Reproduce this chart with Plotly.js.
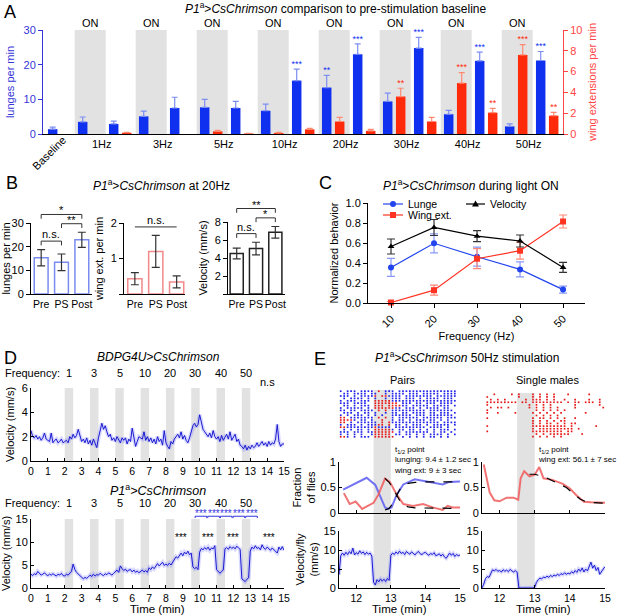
<!DOCTYPE html>
<html>
<head>
<meta charset="utf-8">
<script src="https://cdn.plot.ly/plotly-3.0.1.min.js"></script>
<style>
  html, body { margin: 0; padding: 0; background: #fff; }
  #fig { width: 617px; height: 616px; }
</style>
</head>
<body>
<div id="fig"></div>
<script>
// ---------- data ----------
// A: bars in order Baseline, 1Hz ON, 1Hz OFF, 3Hz ON, 3Hz OFF ... 50Hz OFF
const freqs = ["1Hz", "3Hz", "5Hz", "10Hz", "20Hz", "30Hz", "40Hz", "50Hz"];
const lunges = [1.4, 3.5, 2.9, 5.1, 7.5, 7.7, 7.5, 6.7, 15.4, 13.4, 23.0, 9.4, 24.8, 5.7, 21.1, 2.2, 21.2];
const lungesErr = [0.6, 1.4, 0.8, 1.5, 3.1, 2.3, 1.9, 1.9, 3.3, 3.5, 3.0, 2.4, 3.1, 1.1, 2.5, 0.7, 2.6];
const lungeStars = ["", "", "", "", "", "", "", "", "***", "**", "***", "", "***", "", "***", "", "***"];
const wing = [0, 0, 0.12, 0, 0, 0.25, 0.05, 0.1, 0.45, 1.2, 0.3, 3.6, 1.2, 4.9, 2.05, 7.6, 1.76];
const wingErr = [0, 0, 0.05, 0, 0, 0.1, 0.02, 0.05, 0.1, 0.4, 0.15, 0.8, 0.4, 1.0, 0.42, 1.0, 0.32];
const wingStars = ["", "", "", "", "", "", "", "", "", "", "", "**", "", "***", "**", "***", "**"];

// B: 20Hz Pre / PS / Post
const bCats = ["Pre", "PS", "Post"];
const bLunge = [15.3, 13.4, 22.9];
const bLungeErr = [3.45, 3.5, 3.2];
const bWing = [0.43, 1.2, 0.34];
const bWingErr = [0.17, 0.45, 0.17];
const bVel = [4.5, 5.05, 6.85];
const bVelErr = [0.6, 0.7, 0.65];

// C: normalized behavior during light ON
const cFreq = [10, 20, 30, 40, 50];
const cLunge = [0.356, 0.597, 0.463, 0.336, 0.134];
const cLungeErr = [0.09, 0.095, 0.095, 0.075, 0.035];
const cWing = [0.005, 0.128, 0.443, 0.523, 0.815];
const cWingErr = [0.01, 0.05, 0.1, 0.085, 0.065];
const cVel = [0.565, 0.755, 0.668, 0.62, 0.356];
const cVelErr = [0.075, 0.08, 0.055, 0.06, 0.05];

// D: velocity traces, one value every 0.1 min from 0 to 15
const stimStarts = [2, 3.5, 5, 6.5, 8, 9.5, 11, 12.5];
const stimLabels = ["1", "3", "5", "10", "20", "30", "40", "50"];
const velBDP = [
  2.5, 2.0, 1.9, 2.1, 1.8, 2.0, 1.7, 1.9, 2.3, 1.8,
  1.7, 1.6, 2.3, 1.5, 1.7, 1.8, 1.5, 1.6, 1.8, 1.5,
  1.6, 1.7, 1.5, 2.0, 1.8, 2.2, 1.9, 2.1, 2.6, 2.0,
  1.6, 1.8, 1.5, 1.9, 1.4, 1.7, 1.3, 1.8, 1.5, 1.1,
  1.9, 2.4, 3.1, 2.6, 2.9, 2.4, 2.0, 2.2, 1.7, 1.9,
  1.6, 2.0, 1.8, 1.5, 1.9, 1.7, 1.9, 1.4, 1.8, 1.6,
  2.7, 1.8, 1.2, 1.6, 2.0, 1.9, 1.8, 2.4, 1.7, 2.0,
  1.6, 1.9, 1.5, 1.8, 1.4, 2.0, 1.6, 1.8, 1.3, 2.5,
  1.5, 1.2, 1.0, 1.6, 1.4, 1.8, 2.0, 2.2, 1.9, 2.4,
  1.8, 2.1, 1.7, 1.5, 1.9, 2.4, 2.9, 3.1, 2.8, 3.0,
  3.8, 3.2, 2.6, 2.4, 2.2, 2.0, 2.3, 1.9, 2.5, 2.0,
  1.8, 2.0, 1.6, 2.1, 1.7, 1.9, 2.2, 1.8, 2.4, 1.7,
  1.9, 2.2, 1.6, 1.8, 1.3, 1.2, 1.0, 1.3, 0.9, 1.2,
  1.0, 1.3, 1.1, 1.2, 1.5, 1.2, 1.4, 1.6, 1.3, 1.5,
  1.2, 1.6, 1.3, 1.5, 1.4, 1.8, 3.0, 1.6, 1.2, 1.4,
  1.4];
const velP1 = [
  3.0, 2.7, 3.1, 2.9, 3.6, 3.2, 2.8, 3.0, 3.3, 2.9,
  2.7, 3.0, 2.8, 3.1, 2.9, 2.6, 3.0, 2.8, 3.2, 2.7,
  2.6, 3.0, 2.8, 3.3, 3.6, 5.2, 4.0, 3.4, 3.0, 2.8,
  2.2, 2.0, 2.3, 2.1, 2.4, 2.8, 2.5, 3.0, 2.6, 2.9,
  2.8, 3.2, 2.9, 2.7, 3.1, 2.9, 3.3, 3.0, 2.8, 3.2,
  3.5, 3.9, 3.4, 4.8, 4.2, 3.8, 4.1, 3.6, 3.9, 4.0,
  3.5, 3.9, 3.4, 3.7, 3.3, 3.6, 3.9, 3.5, 3.8, 3.4,
  4.4, 4.0, 4.6, 4.2, 4.9, 5.3, 4.8, 5.2, 5.6, 4.9,
  5.2, 4.9, 5.4, 5.0, 5.6, 6.3, 6.8, 6.5, 7.2, 7.6,
  7.0, 7.8, 7.4, 8.0, 7.2, 7.6, 4.6, 4.2, 4.5, 4.0,
  7.8, 8.6, 8.3, 8.8, 8.4, 8.9, 8.2, 8.7, 8.5, 9.2,
  4.0, 3.5, 3.2, 3.6, 3.9, 8.5, 8.8, 8.4, 9.0, 8.6,
  8.9, 8.5, 9.1, 8.7, 8.4, 2.0, 1.6, 1.4, 1.9, 2.2,
  8.0, 8.9, 8.5, 9.2, 8.6, 8.8, 8.3, 9.4, 8.7, 8.4,
  8.9, 8.5, 8.2, 8.7, 8.4, 8.0, 7.6, 8.9, 8.3, 9.0,
  8.2];
const p1Compare = [9.7, 10.45, 11.2, 11.95, 12.7, 13.45];
const p1StarT = [8.9, 10.5, 12.0, 14.1];

// E: rasters, one char per 0.1 min from 11.5 (b = lunge, r = wing ext)
const pairRows = [
  "b.bbb.bbbb.r.bbb.bbbbbbbbbbbbbbbbb.",
  ".bb.bbbb.bb..b.bbbb.bbb.bbbbb.bbbb.",
  "bbb.b.bbbbr.rrbbbb.bbbbbbbb.bbbbbb.",
  ".b.bbbb.b.b..b.bbb.bbb.b.bbbb.bbb..",
  "b.bbb.bbb.rrrrrbbbbbbbbbbbbbbbbbbb.",
  "bbb.bbbb..rrrrrrr.bbb.bb.bbb.bbbb..",
  ".bb.b.bbb.rrr.rrrrbb.bbbbb.bbbbb.b.",
  "b.bbbbb.b.rrrrrrbb.bbb.b.bbbb.bb...",
  "bb.bb.bbbb.r.r.bbbbbbbbbb.bbbbbbb..",
  ".bbb.b.bb.b..b.bb.bb.bbbb.bb.bbb.b.",
  "b.b.bbb.b.b.b..bbbbbb.bbb.bbbbbbb..",
  "rr.bbbbbbb.r.r.b.bbbbbb.bbbbbb.bbb.",
  "rrrrb.bb.b..r..b.bb.b.bbb.bb.b.b...",
  "rr.b.bbbbbb.r.rbbbbbbbbbbbbbb.bbbb.",
  "b.bbb.b.bbbrr.r.bb.b.bbb.b.bbbbb.b.",
  "rrbbbbbbbbrbbbb.bbbbbbbbb.bbbb.b...",
  ".b.b.bb.b.rrrrrb.bb.bb.b.b.b.bbb.b.",
  "bbb.bbb.bbrrrrrr.b.bbbbbbb.b.bb.b..",
  "b.b.b.b..brrrrr.bb.bb.b.b.bbbb.b.b.",
  "rrb.b.bbb.rrrrrr..b.b.b.b.bb.b.b..."];
const singleRows = [
  "...r....r.r...r.r.r.r...r.....r....",
  ".r........r...r.r.r.r..............",
  "..r.r.r.....r.rrr.r.r..r..r...r..r.",
  ".rrrrrrrrr.rr.rrrrrrrrr.r.rr.rrr.r.",
  ".r...........r.r.r.r......r......r.",
  "..r.rr.r.....r.r.r.r.r....r.......r",
  ".r.............r.r.r.r.r...........",
  ".r..r....r....r.r.r.r.r......r.....",
  "...............r.r.r.r.............",
  ".r............r.rr.r.r.r..r........",
  "..............r.r.r.r.rr...........",
  "..............r.r.rr.r.r.rr........",
  ".r............rrrrrrrrrr.r......r..",
  "..............r.rrrrrrrrrr.r.......",
  ".r............rrrrrrrrr.rr.........",
  "...............r.r.rrrrrr...r......",
  "..............r.r.r.r.r............"];

// E: fraction of flies
const pairLungeT = [11.62, 12.3, 12.55, 12.83, 12.9, 13.02, 13.17, 13.36, 13.69, 14.02, 14.5, 14.69, 15.0];
const pairLunge = [0.46, 0.69, 0.55, 0.11, 0.08, 0.11, 0.36, 0.56, 0.66, 0.62, 0.56, 0.61, 0.62];
const pairWingT = [11.64, 11.81, 11.98, 12.17, 12.5, 12.64, 12.83, 12.97, 13.17, 13.36, 13.64, 13.93, 14.21, 14.5, 14.64, 14.79, 15.0];
const pairWing = [0.39, 0.175, 0.225, 0.08, 0.2, 0.36, 0.675, 0.61, 0.36, 0.175, 0.14, 0.175, 0.11, 0.06, 0.14, 0.11, 0.11];
const pairFitT = [12.83, 12.95, 13.05, 13.15, 13.25, 13.35, 13.5, 13.7, 14.0, 14.5, 15.0];
const pairFitLunge = [0.06, 0.09, 0.18, 0.32, 0.45, 0.53, 0.58, 0.6, 0.61, 0.61, 0.61];
const pairFitWing = [0.68, 0.6, 0.5, 0.37, 0.25, 0.17, 0.12, 0.1, 0.1, 0.09, 0.09];
const singleWingT = [11.55, 11.72, 11.85, 12.0, 12.2, 12.4, 12.53, 12.6, 12.7, 12.85, 13.0, 13.13, 13.25, 13.5, 13.8, 14.0, 14.2, 14.4, 14.6, 15.0];
const singleWing = [0.95, 0.4, 0.25, 0.23, 0.3, 0.3, 0.26, 0.68, 0.82, 0.72, 0.75, 0.9, 0.68, 0.65, 0.57, 0.48, 0.34, 0.22, 0.21, 0.2];
const singleFitT = [12.85, 13.0, 13.3, 13.6, 13.9, 14.1, 14.3, 14.5, 14.7, 15.0];
const singleFit = [0.76, 0.76, 0.7, 0.6, 0.5, 0.38, 0.27, 0.21, 0.2, 0.19];

// E: velocity per fly, one value every 0.05 min from 11.5
const pairVel = [
  3.5, 8.5, 9.2, 8.6, 9.4, 8.8, 9.6, 9.0, 10.5, 8.7,
  9.3, 8.9, 9.8, 9.1, 9.5, 8.8, 9.4, 8.9, 9.2, 8.4,
  1.5, 0.8, 2.2, 1.6, 2.4, 1.8, 2.3, 1.7, 2.5, 2.0,
  8.6, 9.2, 8.8, 9.5, 9.0, 9.7, 9.1, 9.4, 8.8, 9.6,
  9.2, 8.9, 9.5, 9.0, 8.7, 9.3, 9.6, 9.0, 8.8, 9.2,
  9.4, 8.9, 8.6, 9.1, 8.8, 9.3, 8.5, 8.7, 9.0, 8.4,
  8.9, 8.2, 7.8, 8.5, 9.2, 8.6, 9.1, 8.3, 8.8, 8.5,
  8.7];
const singleVel = [
  0, 1.0, 2.5, 3.0, 2.8, 3.8, 4.8, 4.5, 4.9, 4.4,
  4.6, 4.2, 4.8, 4.4, 4.7, 4.3, 4.9, 4.5, 4.2, 4.6,
  4.1, 0, 0, 0, 0, 0, 0, 0, 0, 0,
  0.2, 1.5, 2.2, 2.6, 2.4, 2.9, 2.7, 3.1, 2.8, 3.3,
  3.0, 3.4, 3.2, 3.6, 3.3, 3.8, 3.5, 4.0, 3.6, 3.9,
  3.7, 4.3, 3.9, 4.6, 4.1, 5.0, 4.4, 5.3, 4.2, 5.0,
  4.5, 5.8, 6.8, 5.2, 6.0, 4.6, 5.4, 3.6, 4.4, 5.0,
  5.6];

// ---------- helpers ----------
const W = 617, H = 616;
const FONT = "Liberation Sans, Arial, sans-serif";
const px = p => p / W;
const py = p => 1 - p / H;
const dx = (a, b) => [a / W, b / W];
const dy = (t, b) => [1 - b / H, 1 - t / H];

const BLUE = "#1030f0", BLUE_AX = "#3535d8", BLUE_ERR = "#7d8ef2";
const RED = "#ff2a0a", RED_AX = "#ff4545", RED_ERR = "#ff8a72";
const GRAY = "#e2e2e2";
const BOTTOM = 588;   // bottom axis line of the lowest row of panels

const layout = {
  width: W, height: H,
  margin: { l: 0, r: 0, t: 0, b: 0 },
  paper_bgcolor: "white", plot_bgcolor: "rgba(0,0,0,0)",
  font: { family: FONT, size: 11, color: "black" },
  showlegend: false, barmode: "overlay",
  shapes: [], annotations: []
};
const data = [];

function ax(extra) {
  return Object.assign({
    showgrid: false, zeroline: false, showline: true, linecolor: "black", linewidth: 1,
    ticks: "outside", ticklen: 4, tickcolor: "black", tickfont: { size: 11 }, fixedrange: true
  }, extra);
}
// invisible axis that only carries significance brackets above a panel
function overAxis(anchor, top, bottom, baseTop, baseRange) {
  return { visible: false, fixedrange: true, anchor: anchor, domain: dy(top, bottom), range: [0, baseRange * (bottom - top) / (bottom - baseTop)] };
}
function note(text, x, y, o) {
  layout.annotations.push(Object.assign({
    text: text, x: px(x), y: py(y), xref: "paper", yref: "paper", showarrow: false,
    xanchor: "center", yanchor: "middle", font: { size: 11 }
  }, o || {}));
}
// annotation with x in data units and y in pixels from the top
function noteX(text, xa, x, y, o) {
  layout.annotations.push(Object.assign({
    text: text, x: x, y: py(y), xref: xa, yref: "paper", showarrow: false,
    xanchor: "center", yanchor: "middle", font: { size: 11 }
  }, o || {}));
}

// ---------- A ----------
const grpStart = g => 74.7 + 61 * g;
function barX(i, red) {
  const g = i === 0 ? -1 : Math.floor((i - 1) / 2);
  const on = i > 0 && (i - 1) % 2 === 0;
  return grpStart(g) + (on ? (red ? 21 : 8) : (red ? 52 : 39));
}
const lx = lunges.map((v, i) => barX(i, false));
const wx = wing.map((v, i) => barX(i, true));

data.push({
  type: "bar", x: lx, y: lunges, width: 9.5, marker: { color: BLUE },
  error_y: { type: "data", symmetric: false, array: lungesErr, arrayminus: lunges.map(() => 0), color: BLUE_ERR, thickness: 1.2, width: 3 },
  xaxis: "x", yaxis: "y", hoverinfo: "skip"
});
data.push({
  type: "bar", x: wx, y: wing, width: 9.5, marker: { color: RED },
  error_y: { type: "data", symmetric: false, array: wingErr.map((e, i) => wing[i] > 0 ? e : NaN), arrayminus: wing.map(v => v > 0 ? 0 : NaN), color: RED_ERR, thickness: 1.2, width: 3 },
  xaxis: "x", yaxis: "y2", hoverinfo: "skip"
});
data.push({
  type: "scatter", mode: "text", x: lx, y: lunges.map((v, i) => v + lungesErr[i]), text: lungeStars,
  textposition: "top center", textfont: { color: BLUE, size: 9 }, cliponaxis: false, xaxis: "x", yaxis: "y", hoverinfo: "skip"
});
data.push({
  type: "scatter", mode: "text", x: wx, y: wing.map((v, i) => v + wingErr[i]), text: wingStars,
  textposition: "top center", textfont: { color: RED, size: 9 }, cliponaxis: false, xaxis: "x", yaxis: "y2", hoverinfo: "skip"
});
freqs.forEach((f, g) => {
  layout.shapes.push({ type: "rect", xref: "x", yref: "y", x0: grpStart(g), x1: grpStart(g) + 31, y0: 0, y1: 30, fillcolor: GRAY, line: { width: 0 }, layer: "below" });
  noteX("ON", "x", grpStart(g) + 15.5, 23);
});
layout.xaxis = ax({
  domain: dx(43, 563), range: [43, 563], anchor: "y", ticks: "",
  tickvals: freqs.map((f, g) => grpStart(g) + 27), ticktext: freqs
});
layout.yaxis = ax({
  domain: dy(30, 134), range: [0, 30], tickvals: [0, 10, 20, 30], anchor: "x",
  linecolor: BLUE_AX, tickcolor: BLUE_AX, tickfont: { size: 11, color: BLUE_AX },
  title: { text: "lunges per min", font: { size: 11, color: BLUE_AX }, standoff: 6 }
});
layout.yaxis2 = ax({
  overlaying: "y", side: "right", anchor: "x", range: [0, 10], tickvals: [0, 2, 4, 6, 8, 10],
  linecolor: RED_AX, tickcolor: RED_AX, tickfont: { size: 11, color: RED_AX },
  title: { text: "wing extensions per min", font: { size: 11, color: RED_AX }, standoff: 6 }
});
noteX("Baseline", "x", 49, 153, { textangle: -45 });
note("A", 2, 0, { xanchor: "left", yanchor: "top", font: { size: 18 } });
note("<i>P1</i><sup>a</sup>&gt;<i>CsChrimson</i> comparison to pre-stimulation baseline", 335, 8, { font: { size: 12 } });

// ---------- B ----------
function bPanel(xa, ya, yBr, vals, errs, lineColor, rng, brackets) {
  data.push({
    type: "bar", x: [0, 1, 2], y: vals, width: 0.68,
    marker: { color: "white", line: { color: lineColor, width: 1.5 } },
    error_y: { type: "data", array: errs, color: "#333", thickness: 1.2, width: 4 },
    xaxis: xa, yaxis: ya, hoverinfo: "skip"
  });
  brackets.forEach(b => {
    let top = 0;
    for (let k = b.a; k <= b.b; k++) top = Math.max(top, vals[k] + errs[k]);
    const yb = top + rng * (0.12 + 0.13 * b.level);
    const d = b.drop ? rng * 0.06 : 0;
    data.push({
      type: "scatter", mode: "lines", x: [b.a, b.a, b.b, b.b], y: [yb - d, yb, yb, yb - d],
      line: { color: "#333", width: 1 }, xaxis: xa, yaxis: yBr, hoverinfo: "skip"
    });
    layout.annotations.push({
      text: b.label, xref: xa, yref: yBr, x: (b.a + b.b) / 2, y: yb, xanchor: "center", yanchor: "bottom",
      showarrow: false, font: { size: 11 }, yshift: b.label === "n.s." ? -1 : -4
    });
  });
}
bPanel("x2", "y3", "y15", bLunge, bLungeErr, "#7b8cf0", 30, [
  { a: 0, b: 1, label: "n.s.", level: 0, drop: true },
  { a: 1, b: 2, label: "**", level: 0, drop: true },
  { a: 0, b: 2, label: "*", level: 1, drop: true }]);
bPanel("x3", "y4", "y16", bWing, bWingErr, "#f28a8a", 2, [
  { a: 0, b: 2, label: "n.s.", level: 0, drop: false }]);
bPanel("x4", "y5", "y17", bVel, bVelErr, "#222", 8, [
  { a: 0, b: 1, label: "n.s.", level: 0, drop: true },
  { a: 1, b: 2, label: "*", level: 0, drop: true },
  { a: 0, b: 2, label: "**", level: 1, drop: true }]);
const bx = { ticks: "", tickvals: [0, 1, 2], ticktext: bCats, tickfont: { size: 10.5 }, tickangle: 0 };
layout.xaxis2 = ax(Object.assign({ domain: dx(31, 92), range: [-0.5, 2.5], anchor: "y3" }, bx));
layout.yaxis3 = ax({ domain: dy(223, 294), range: [0, 30], tickvals: [0, 10, 20, 30], anchor: "x2", title: { text: "lunges per min", font: { size: 11 }, standoff: 4 } });
layout.xaxis3 = ax(Object.assign({ domain: dx(124, 185), range: [-0.52, 2.4], anchor: "y4" }, bx));
layout.yaxis4 = ax({ domain: dy(223, 294), range: [0, 2], tickvals: [0, 1, 2], ticktext: ["", "1", "2"], anchor: "x3", title: { text: "wing ext. per min", font: { size: 11 }, standoff: 4 } });
layout.xaxis4 = ax(Object.assign({ domain: dx(228, 285), range: [-0.45, 2.5], anchor: "y5" }, bx));
layout.yaxis5 = ax({ domain: dy(222, 294), range: [0, 8], tickvals: [0, 2, 4, 6, 8], ticktext: ["", "2", "4", "6", "8"], anchor: "x4", title: { text: "Velocity (mm/s)", font: { size: 11 }, standoff: 4 } });
layout.yaxis15 = overAxis("x2", 194, 294, 223, 30);
layout.yaxis16 = overAxis("x3", 194, 294, 223, 2);
layout.yaxis17 = overAxis("x4", 194, 294, 222, 8);
note("B", 4, 171, { xanchor: "left", yanchor: "top", font: { size: 18 } });
note("<i>P1</i><sup>a</sup>&gt;<i>CsChrimson</i> at 20Hz", 161, 185, { font: { size: 12 } });

// ---------- C ----------
const C_BLUE = "#2244ee", C_RED = "#ff3322";
[[cLunge, cLungeErr, C_BLUE, "#8899f5", "circle"],
 [cWing, cWingErr, C_RED, "#ff8877", "square"],
 [cVel, cVelErr, "black", "#333", "triangle-up"]].forEach(s => {
  data.push({
    type: "scatter", mode: "lines+markers", x: cFreq, y: s[0],
    line: { color: s[2], width: 1.2 }, marker: { color: s[2], symbol: s[4], size: 6 },
    error_y: { type: "data", array: s[1], color: s[3], thickness: 1.2, width: 4 },
    cliponaxis: false, xaxis: "x5", yaxis: "y6", hoverinfo: "skip"
  });
});
layout.xaxis5 = ax({
  domain: dx(368, 585), range: [4.65, 55.1], tickvals: cFreq, tickangle: -45, anchor: "y6",
  title: { text: "Frequency (Hz)", font: { size: 11 }, standoff: 2 }
});
layout.yaxis6 = ax({
  domain: dy(203, 303), range: [0, 1], tickvals: [0, 0.2, 0.4, 0.6, 0.8, 1.0], tickformat: ".1f", anchor: "x5",
  title: { text: "Normalized behavior", font: { size: 11 }, standoff: 4 }
});
// hand drawn legend
function legItem(x0, x1, y, color, sym, label) {
  layout.shapes.push({ type: "line", xref: "paper", yref: "paper", x0: px(x0), x1: px(x1), y0: py(y), y1: py(y), line: { color: color, width: 1.2 } });
  const cx = (x0 + x1) / 2;
  if (sym === "circle") layout.shapes.push({ type: "circle", xref: "paper", yref: "paper", x0: px(cx - 3), x1: px(cx + 3), y0: py(y + 3), y1: py(y - 3), fillcolor: color, line: { width: 0 } });
  if (sym === "square") layout.shapes.push({ type: "rect", xref: "paper", yref: "paper", x0: px(cx - 3), x1: px(cx + 3), y0: py(y + 3), y1: py(y - 3), fillcolor: color, line: { width: 0 } });
  if (sym === "tri") layout.shapes.push({ type: "path", xref: "paper", yref: "paper", path: `M ${px(cx)},${py(y - 3.5)} L ${px(cx + 3.5)},${py(y + 2.5)} L ${px(cx - 3.5)},${py(y + 2.5)} Z`, fillcolor: color, line: { width: 0 } });
  note(label, x1 + 3, y, { xanchor: "left", font: { size: 10.5 } });
}
legItem(383, 403, 204, C_BLUE, "circle", "Lunge");
legItem(383, 403, 215, C_RED, "square", "Wing ext.");
legItem(466, 485, 204, "black", "tri", "Velocity");
note("C", 317, 171, { xanchor: "left", yanchor: "top", font: { size: 18 } });
note("<i>P1</i><sup>a</sup>&gt;<i>CsChrimson</i> during light ON", 471, 185, { font: { size: 12 } });

// ---------- D ----------
const dT = velBDP.map((v, i) => i * 0.1);
function dPanel(xa, ya, vals, ymax) {
  data.push({ type: "scatter", mode: "lines", x: dT, y: vals, line: { color: "rgba(120,120,255,0.28)", width: 4 }, xaxis: xa, yaxis: ya, hoverinfo: "skip" });
  data.push({ type: "scatter", mode: "lines", x: dT, y: vals, line: { color: "#1a1ad0", width: 1 }, xaxis: xa, yaxis: ya, hoverinfo: "skip" });
  stimStarts.forEach(s => {
    layout.shapes.push({ type: "rect", xref: xa, yref: ya, x0: s, x1: s + 0.5, y0: 0, y1: ymax, fillcolor: GRAY, line: { width: 0 }, layer: "below" });
  });
}
dPanel("x6", "y7", velBDP, 6);
dPanel("x7", "y8", velP1, 15);
const dStyle = { range: [0, 15], dtick: 1, ticks: "inside", ticklen: 3, tickfont: { size: 10.5 } };
layout.xaxis6 = ax(Object.assign({ domain: dx(31, 284), anchor: "y7" }, dStyle));
layout.yaxis7 = ax({ domain: dy(388, 461), range: [0, 6], tickvals: [0, 2, 4, 6], ticks: "inside", ticklen: 3, anchor: "x6", title: { text: "Velocity (mm/s)", font: { size: 11 }, standoff: 4 } });
layout.xaxis7 = ax(Object.assign({ domain: dx(31, 284), anchor: "y8" }, dStyle));
layout.yaxis8 = ax({ domain: dy(519, BOTTOM), range: [0, 15], tickvals: [0, 5, 10, 15], ticks: "inside", ticklen: 3, anchor: "x7", title: { text: "Velocity (mm/s)", font: { size: 11 }, standoff: 4 } });
layout.yaxis18 = overAxis("x7", 499, BOTTOM, 519, 15);
note("Time (min)", 157, 609, { font: { size: 11.5 } });
[["x6", 373], ["x7", 503]].forEach(r => {
  note("Frequency:", 3, r[1], { xanchor: "left" });
  stimStarts.forEach((s, k) => noteX(stimLabels[k], r[0], s + 0.25, r[1]));
});
noteX("n.s", "x6", 14.0, 382);
for (let k = 0; k < p1Compare.length - 1; k++) {
  const a = p1Compare[k] + 0.03, b = p1Compare[k + 1] - 0.03;
  data.push({ type: "scatter", mode: "lines", x: [a, a, b, b], y: [15.2, 15.6, 15.6, 15.2], line: { color: "#3535e0", width: 1 }, xaxis: "x7", yaxis: "y18", hoverinfo: "skip" });
  layout.annotations.push({ text: "***", xref: "x7", yref: "y18", x: (a + b) / 2, y: 15.6, xanchor: "center", yanchor: "bottom", yshift: -5, showarrow: false, font: { size: 10, color: "#3535e0" } });
}
p1StarT.forEach(t => {
  layout.annotations.push({ text: "***", xref: "x7", yref: "y8", x: t, y: 11, xanchor: "center", yanchor: "middle", showarrow: false, font: { size: 10 } });
});
note("D", 2, 346, { xanchor: "left", yanchor: "top", font: { size: 18 } });
note("<i>BDPG4U&gt;CsChrimson</i>", 158, 357, { font: { size: 12 } });
note("<i>P1</i><sup>a</sup><i>&gt;CsChrimson</i>", 158, 490, { font: { size: 12.5 } });

// ---------- E ----------
function rasterPts(rows, ch) {
  const x = [], y = [];
  rows.forEach((r, k) => {
    for (let i = 0; i < r.length; i++) if (r[i] === ch) { x.push(11.5 + 0.1 * i + 0.05); y.push(k); }
  });
  return { x: x, y: y };
}
const pb = rasterPts(pairRows, "b"), pr = rasterPts(pairRows, "r"), sr = rasterPts(singleRows, "r");
data.push({ type: "scatter", mode: "markers", x: pb.x, y: pb.y, marker: { color: "#2020e8", symbol: "square", size: 1.7 }, xaxis: "x8", yaxis: "y9", hoverinfo: "skip" });
data.push({ type: "scatter", mode: "markers", x: pr.x, y: pr.y, marker: { color: "#e81818", symbol: "square", size: 1.7 }, xaxis: "x8", yaxis: "y9", hoverinfo: "skip" });
data.push({ type: "scatter", mode: "markers", x: sr.x, y: sr.y, marker: { color: "#e81818", symbol: "square", size: 1.7 }, xaxis: "x9", yaxis: "y10", hoverinfo: "skip" });
const hid = { visible: false, fixedrange: true };
layout.xaxis8 = Object.assign({ domain: dx(339, 460), range: [11.5, 15], anchor: "y9" }, hid);
layout.yaxis9 = Object.assign({ domain: dy(390, 438), range: [pairRows.length - 0.5, -0.5], anchor: "x8" }, hid);
layout.xaxis9 = Object.assign({ domain: dx(482, 605), range: [11.5, 15], anchor: "y10" }, hid);
layout.yaxis10 = Object.assign({ domain: dy(393, 438), range: [singleRows.length - 0.5, -0.5], anchor: "x9" }, hid);

function line(xa, ya, x, y, color, width, dash) {
  data.push({ type: "scatter", mode: "lines", x: x, y: y, line: { color: color, width: width, dash: dash || "solid" }, xaxis: xa, yaxis: ya, hoverinfo: "skip" });
}
line("x10", "y11", pairLungeT, pairLunge, "rgba(90,90,245,0.85)", 2);
line("x10", "y11", pairWingT, pairWing, "rgba(240,90,90,0.85)", 2);
line("x10", "y11", pairFitT, pairFitLunge, "black", 1.2, "dash");
line("x10", "y11", pairFitT, pairFitWing, "black", 1.2, "dash");
line("x11", "y12", singleWingT, singleWing, "rgba(240,90,90,0.85)", 2);
line("x11", "y12", singleFitT, singleFit, "black", 1.2, "dash");
const eT = pairVel.map((v, i) => 11.5 + i * 0.05);
line("x12", "y13", eT, pairVel, "rgba(120,120,255,0.3)", 3.5);
line("x12", "y13", eT, pairVel, "#1a1ad0", 1);
line("x13", "y14", eT, singleVel, "rgba(120,120,255,0.3)", 3.5);
line("x13", "y14", eT, singleVel, "#1a1ad0", 1);

const eX = { range: [11.5, 15], tickvals: [12, 13, 14, 15], ticks: "inside", ticklen: 3, tickfont: { size: 10.5 } };
const eFracY = { range: [0, 1], tickvals: [0, 0.5, 1], ticktext: ["0", "0.5", "1"], ticks: "inside", ticklen: 3 };
const eVelY = { range: [0, 15], tickvals: [0, 5, 10, 15], ticks: "inside", ticklen: 3 };
layout.xaxis10 = ax(Object.assign({ domain: dx(339, 460), anchor: "y11", showticklabels: false }, eX));
layout.yaxis11 = ax(Object.assign({ domain: dy(462, 513), anchor: "x10", title: { text: "Fraction<br>of flies", font: { size: 11 }, standoff: 2 } }, eFracY));
layout.xaxis11 = ax(Object.assign({ domain: dx(482, 605), anchor: "y12", showticklabels: false }, eX));
layout.yaxis12 = ax(Object.assign({ domain: dy(462, 513), anchor: "x11" }, eFracY));
layout.xaxis12 = ax(Object.assign({ domain: dx(339, 460), anchor: "y13" }, eX));
layout.yaxis13 = ax(Object.assign({ domain: dy(531, BOTTOM), anchor: "x12", title: { text: "Velocity/fly<br>(mm/s)", font: { size: 11 }, standoff: 2 } }, eVelY));
layout.xaxis13 = ax(Object.assign({ domain: dx(482, 605), anchor: "y14" }, eX));
layout.yaxis14 = ax(Object.assign({ domain: dy(531, BOTTOM), anchor: "x13" }, eVelY));
note("Time (min)", 399, 609, { font: { size: 11.5 } });
note("Time (min)", 543, 609, { font: { size: 11.5 } });

layout.shapes.push({ type: "rect", xref: "x10", yref: "paper", x0: 12.5, x1: 13, y0: py(BOTTOM), y1: py(390), fillcolor: GRAY, line: { width: 0 }, layer: "below" });
layout.shapes.push({ type: "rect", xref: "x11", yref: "paper", x0: 12.5, x1: 13, y0: py(BOTTOM), y1: py(393), fillcolor: GRAY, line: { width: 0 }, layer: "below" });

note("t<sub>1/2</sub> point<br>lunging: 9.4 ± 1.2 sec<br>wing ext: 9 ± 3 sec", 392, 443, { xanchor: "left", yanchor: "top", align: "left", font: { size: 8 } });
note("t<sub>1/2</sub> point<br>wing ext: 56.1 ± 7 sec", 536, 443, { xanchor: "left", yanchor: "top", align: "left", font: { size: 8 } });
note("E", 312, 347, { xanchor: "left", yanchor: "top", font: { size: 18 } });
note("<i>P1</i><sup>a</sup><i>&gt;CsChrimson</i> 50Hz stimulation", 467, 357, { font: { size: 12 } });
note("Pairs", 403, 380);
note("Single males", 547, 380);

Plotly.newPlot("fig", data, layout, { displayModeBar: false, staticPlot: true });
</script>
</body>
</html>
